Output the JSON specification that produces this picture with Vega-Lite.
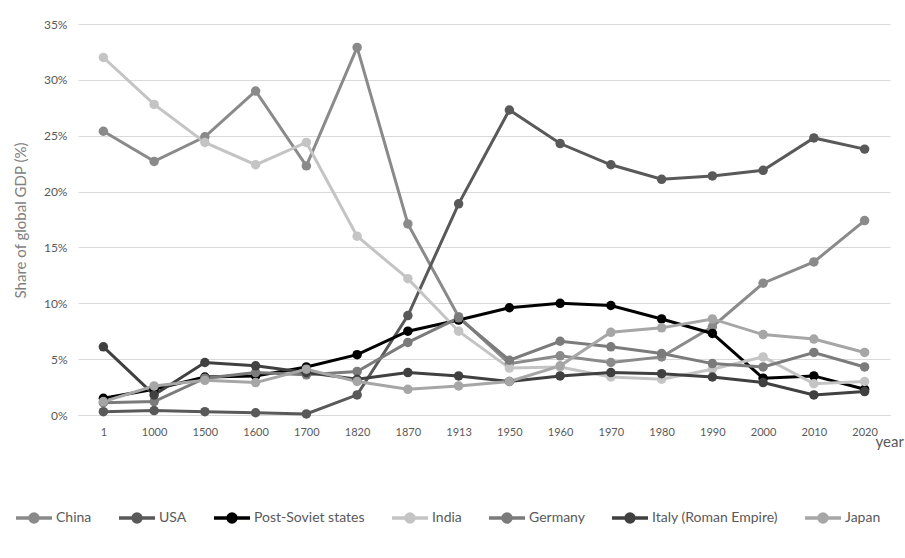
{
  "$schema": "https://vega.github.io/schema/vega-lite/v6.json",
  "width": 812,
  "height": 391,
  "autosize": {"type": "none"},
  "padding": {"left": 78, "top": 24, "right": 15, "bottom": 143},
  "background": "white",
  "config": {
    "font": "Lato",
    "view": {"stroke": null},
    "axis": {"labelColor": "#595959", "titleColor": "#595959", "titleFontWeight": "normal"}
  },
  "datasets": {
    "gdp": [
      {"year": "1", "country": "China", "share": 25.4}, {"year": "1000", "country": "China", "share": 22.7}, {"year": "1500", "country": "China", "share": 24.9}, {"year": "1600", "country": "China", "share": 29.0}, {"year": "1700", "country": "China", "share": 22.3}, {"year": "1820", "country": "China", "share": 32.9}, {"year": "1870", "country": "China", "share": 17.1}, {"year": "1913", "country": "China", "share": 8.8}, {"year": "1950", "country": "China", "share": 4.6}, {"year": "1960", "country": "China", "share": 5.3}, {"year": "1970", "country": "China", "share": 4.7}, {"year": "1980", "country": "China", "share": 5.2}, {"year": "1990", "country": "China", "share": 7.9}, {"year": "2000", "country": "China", "share": 11.8}, {"year": "2010", "country": "China", "share": 13.7}, {"year": "2020", "country": "China", "share": 17.4},
      {"year": "1", "country": "USA", "share": 0.3}, {"year": "1000", "country": "USA", "share": 0.4}, {"year": "1500", "country": "USA", "share": 0.3}, {"year": "1600", "country": "USA", "share": 0.2}, {"year": "1700", "country": "USA", "share": 0.1}, {"year": "1820", "country": "USA", "share": 1.8}, {"year": "1870", "country": "USA", "share": 8.9}, {"year": "1913", "country": "USA", "share": 18.9}, {"year": "1950", "country": "USA", "share": 27.3}, {"year": "1960", "country": "USA", "share": 24.3}, {"year": "1970", "country": "USA", "share": 22.4}, {"year": "1980", "country": "USA", "share": 21.1}, {"year": "1990", "country": "USA", "share": 21.4}, {"year": "2000", "country": "USA", "share": 21.9}, {"year": "2010", "country": "USA", "share": 24.8}, {"year": "2020", "country": "USA", "share": 23.8},
      {"year": "1", "country": "Post-Soviet states", "share": 1.5}, {"year": "1000", "country": "Post-Soviet states", "share": 2.3}, {"year": "1500", "country": "Post-Soviet states", "share": 3.4}, {"year": "1600", "country": "Post-Soviet states", "share": 3.5}, {"year": "1700", "country": "Post-Soviet states", "share": 4.3}, {"year": "1820", "country": "Post-Soviet states", "share": 5.4}, {"year": "1870", "country": "Post-Soviet states", "share": 7.5}, {"year": "1913", "country": "Post-Soviet states", "share": 8.5}, {"year": "1950", "country": "Post-Soviet states", "share": 9.6}, {"year": "1960", "country": "Post-Soviet states", "share": 10.0}, {"year": "1970", "country": "Post-Soviet states", "share": 9.8}, {"year": "1980", "country": "Post-Soviet states", "share": 8.6}, {"year": "1990", "country": "Post-Soviet states", "share": 7.3}, {"year": "2000", "country": "Post-Soviet states", "share": 3.3}, {"year": "2010", "country": "Post-Soviet states", "share": 3.5}, {"year": "2020", "country": "Post-Soviet states", "share": 2.3},
      {"year": "1", "country": "India", "share": 32.0}, {"year": "1000", "country": "India", "share": 27.8}, {"year": "1500", "country": "India", "share": 24.4}, {"year": "1600", "country": "India", "share": 22.4}, {"year": "1700", "country": "India", "share": 24.4}, {"year": "1820", "country": "India", "share": 16.0}, {"year": "1870", "country": "India", "share": 12.2}, {"year": "1913", "country": "India", "share": 7.5}, {"year": "1950", "country": "India", "share": 4.2}, {"year": "1960", "country": "India", "share": 4.3}, {"year": "1970", "country": "India", "share": 3.4}, {"year": "1980", "country": "India", "share": 3.2}, {"year": "1990", "country": "India", "share": 4.1}, {"year": "2000", "country": "India", "share": 5.2}, {"year": "2010", "country": "India", "share": 2.8}, {"year": "2020", "country": "India", "share": 3.0},
      {"year": "1", "country": "Germany", "share": 1.1}, {"year": "1000", "country": "Germany", "share": 1.2}, {"year": "1500", "country": "Germany", "share": 3.3}, {"year": "1600", "country": "Germany", "share": 3.8}, {"year": "1700", "country": "Germany", "share": 3.6}, {"year": "1820", "country": "Germany", "share": 3.9}, {"year": "1870", "country": "Germany", "share": 6.5}, {"year": "1913", "country": "Germany", "share": 8.7}, {"year": "1950", "country": "Germany", "share": 4.9}, {"year": "1960", "country": "Germany", "share": 6.6}, {"year": "1970", "country": "Germany", "share": 6.1}, {"year": "1980", "country": "Germany", "share": 5.5}, {"year": "1990", "country": "Germany", "share": 4.6}, {"year": "2000", "country": "Germany", "share": 4.3}, {"year": "2010", "country": "Germany", "share": 5.6}, {"year": "2020", "country": "Germany", "share": 4.3},
      {"year": "1", "country": "Italy (Roman Empire)", "share": 6.1}, {"year": "1000", "country": "Italy (Roman Empire)", "share": 1.8}, {"year": "1500", "country": "Italy (Roman Empire)", "share": 4.7}, {"year": "1600", "country": "Italy (Roman Empire)", "share": 4.4}, {"year": "1700", "country": "Italy (Roman Empire)", "share": 3.8}, {"year": "1820", "country": "Italy (Roman Empire)", "share": 3.2}, {"year": "1870", "country": "Italy (Roman Empire)", "share": 3.8}, {"year": "1913", "country": "Italy (Roman Empire)", "share": 3.5}, {"year": "1950", "country": "Italy (Roman Empire)", "share": 3.0}, {"year": "1960", "country": "Italy (Roman Empire)", "share": 3.5}, {"year": "1970", "country": "Italy (Roman Empire)", "share": 3.8}, {"year": "1980", "country": "Italy (Roman Empire)", "share": 3.7}, {"year": "1990", "country": "Italy (Roman Empire)", "share": 3.4}, {"year": "2000", "country": "Italy (Roman Empire)", "share": 2.9}, {"year": "2010", "country": "Italy (Roman Empire)", "share": 1.8}, {"year": "2020", "country": "Italy (Roman Empire)", "share": 2.1},
      {"year": "1", "country": "Japan", "share": 1.2}, {"year": "1000", "country": "Japan", "share": 2.6}, {"year": "1500", "country": "Japan", "share": 3.1}, {"year": "1600", "country": "Japan", "share": 2.9}, {"year": "1700", "country": "Japan", "share": 4.1}, {"year": "1820", "country": "Japan", "share": 3.0}, {"year": "1870", "country": "Japan", "share": 2.3}, {"year": "1913", "country": "Japan", "share": 2.6}, {"year": "1950", "country": "Japan", "share": 3.0}, {"year": "1960", "country": "Japan", "share": 4.4}, {"year": "1970", "country": "Japan", "share": 7.4}, {"year": "1980", "country": "Japan", "share": 7.8}, {"year": "1990", "country": "Japan", "share": 8.6}, {"year": "2000", "country": "Japan", "share": 7.2}, {"year": "2010", "country": "Japan", "share": 6.8}, {"year": "2020", "country": "Japan", "share": 5.6}
    ]
  },
  "data": {"name": "gdp"},
  "mark": {"type": "line", "strokeWidth": 3, "point": {"filled": true, "size": 90, "opacity": 1}},
  "encoding": {
    "x": {
      "field": "year",
      "type": "ordinal",
      "sort": ["1", "1000", "1500", "1600", "1700", "1820", "1870", "1913", "1950", "1960", "1970", "1980", "1990", "2000", "2010", "2020"],
      "scale": {"type": "point", "padding": 0.5},
      "axis": {
        "title": "year",
        "labelAngle": 0,
        "labelFontSize": 11,
        "labelPadding": 11,
        "ticks": false,
        "domain": true,
        "domainColor": "#d9d9d9",
        "titleFontSize": 15,
        "titleAnchor": "start",
        "titleAlign": "left",
        "titleBaseline": "alphabetic",
        "titleX": 797,
        "titleY": 31
      }
    },
    "y": {
      "field": "share",
      "type": "quantitative",
      "scale": {"domain": [0, 35], "nice": false},
      "axis": {
        "title": "Share of global GDP (%)",
        "values": [0, 5, 10, 15, 20, 25, 30, 35],
        "labelExpr": "datum.value + '%'",
        "labelFontSize": 12,
        "labelPadding": 11,
        "ticks": false,
        "domain": false,
        "gridColor": "#d9d9d9",
        "titleFontSize": 15,
        "titleColor": "#7f7f7f",
        "titleAngle": 270,
        "titleBaseline": "middle",
        "titleX": -58,
        "titleY": 196
      }
    },
    "color": {
      "field": "country",
      "type": "nominal",
      "scale": {
        "domain": ["China", "USA", "Post-Soviet states", "India", "Germany", "Italy (Roman Empire)", "Japan"],
        "range": ["#8a8a8a", "#595959", "#000000", "#c4c4c4", "#7b7b7b", "#404040", "#a6a6a6"]
      },
      "legend": {
        "title": null,
        "orient": "none",
        "direction": "horizontal",
        "columns": 7,
        "legendX": -64,
        "legendY": 474,
        "labelFontSize": 14,
        "labelColor": "#595959",
        "labelOffset": 2,
        "columnPadding": 19,
        "symbolType": "M-1,0L1,0M-0.22,0A0.22,0.22,0,1,1,0.22,0A0.22,0.22,0,1,1,-0.22,0Z",
        "symbolSize": 1300,
        "symbolStrokeWidth": 3.5,
        "encode": {"symbols": {"update": {"fill": {"scale": "color", "field": "value"}}}}
      }
    }
  }
}
